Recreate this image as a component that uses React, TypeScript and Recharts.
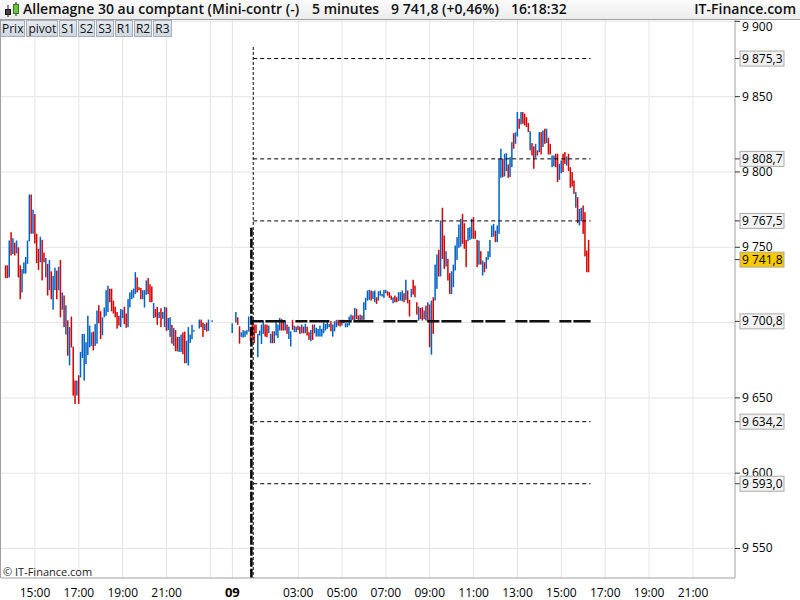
import React from "react";
import {
  ComposedChart, Bar, XAxis, YAxis, CartesianGrid, ReferenceLine,
} from "recharts";

// 5-minute bars, times in minutes relative to 00:00 on the 9th
const DAY8_START = -620;
const DAY9_START = 0;

const day8High = [
  9738, 9738, 9754.5, 9760, 9756, 9753, 9754.5, 9750, 9738, 9735.5,
  9740, 9743.5, 9754.5, 9785, 9785, 9775, 9772, 9759, 9749, 9757,
  9755, 9746.5, 9743, 9739, 9741.5, 9734, 9731, 9736.5, 9734.5, 9737,
  9741.5, 9720, 9718, 9711.5, 9701.5, 9697, 9704, 9684, 9661.5, 9661.5,
  9665, 9680.5, 9692.5, 9692.5, 9687, 9704.5, 9698, 9693.5, 9694, 9699,
  9708, 9711.5, 9707.5, 9703.5, 9710, 9721.5, 9724.5, 9722.5, 9722.5, 9714.5,
  9710.5, 9707, 9704.5, 9709, 9708.5, 9710.5, 9706, 9715.5, 9720, 9721.5,
  9722.5, 9733.5, 9730, 9723.5, 9723, 9721.5, 9721.5, 9728, 9729.5, 9725.5,
  9724, 9713, 9709, 9710.5, 9707, 9709.5, 9707, 9710.5, 9710, 9703,
  9703.5, 9698.5, 9696.5, 9695, 9690.5, 9690.5, 9692, 9693.5, 9694, 9688,
  9697, 9692, 9698.5, 9695, null, null, 9702, 9702, 9700, 9699,
  9700, 9702, null, 9701.5,
];
const day8Low = [
  9729.5, 9729.5, 9730, 9744.5, 9745.5, 9744.5, 9746, 9730, 9715.5, 9720,
  9732.5, 9732.5, 9739, 9754, 9759, 9759, 9752.5, 9739.5, 9735, 9740,
  9728, 9740, 9730, 9718, 9721.5, 9715.5, 9708.5, 9721.5, 9715.5, 9721.5,
  9703.5, 9708.5, 9697, 9692, 9678, 9671.5, 9683.5, 9651.5, 9646, 9651.5,
  9646, 9663.5, 9676.5, 9661.5, 9672.5, 9678.5, 9683.5, 9684.5, 9681.5, 9684.5,
  9686, 9699.5, 9689, 9691.5, 9703.5, 9704.5, 9707, 9713.5, 9707.5, 9706,
  9703.5, 9696, 9698, 9697, 9703, 9699, 9696.5, 9697, 9710, 9715.5,
  9716.5, 9719, 9720, 9721.5, 9715.5, 9715.5, 9710, 9718.5, 9719, 9713.5,
  9713.5, 9703, 9703.5, 9698.5, 9703, 9697, 9702.5, 9697, 9694.5, 9695,
  9690.5, 9686, 9684.5, 9681, 9681, 9680.5, 9680.5, 9679, 9673, 9673,
  9671.5, 9686.5, 9689, 9694, null, null, 9696, 9697, 9690.5, 9695,
  9694, 9694.5, null, 9701,
];
// b = up bar (blue), r = down bar (red)
const day8Dir =
  "rrbrbrbrrb" + "bbbbrbrrrb" + "rrbrbrbbrb" + "rbrbrbrrrb" + "rbbbbbbbrb" +
  "brrbbbbrrr" + "rrrbbrrbbb" + "bbrrrbbbrr" + "rbrrbrbbrb" + "brbrrbbrrb" +
  "bbbb..brrb" + "rb.b";

const day9High = [
  9699.5, null, 9707, 9703.5, 9697.5, 9693.5, 9695, 9694.5, 9695, 9704,
  9697, 9701, 9698.7, 9698.7, 9692.5, 9694.7, 9698.7, 9701.3, 9698.7, 9698.7,
  9698, 9692.5, 9694.2, 9694.2, 9700.2, 9698.7, 9703.1, 9702.4, 9701.3, 9701.3,
  9698.7, 9697.3, 9694.2, 9701.8, 9698, 9697.3, 9698, 9697.3, 9698.7, 9697.3,
  9699.1, 9697.3, 9693.6, 9695.1, 9698.7, 9698.7, 9696.5, 9695.8, 9698, 9695.8,
  9700.2, 9699.1, 9700.9, 9699.1, 9700.9, 9698.7, 9700.9, 9701.8, 9701.8, 9701.8,
  9701.8, 9701.8, 9699.6, 9699.6, 9704, 9705.3, 9704.7, 9709.7, 9709.1, 9704.7,
  9705.3, 9704.7, 9713.5, 9716.4, 9721.3, 9721.7, 9721.3, 9720.8, 9721.3, 9716.8,
  9720.8, 9721.3, 9719, 9721.7, 9721.7, 9720.8, 9720.2, 9717.9, 9716.8, 9717.9,
  9716.8, 9720.2, 9720.2, 9721.3, 9719.5, 9728.4, 9721.3, 9715.1, 9722.4, 9728.4,
  9724.6, 9713.5, 9710.6, 9709.7, 9710.2, 9708, 9711.3, 9713.5, 9712, 9714.6,
  9716.8, 9738.5, 9745.2, 9748.3, 9767.8, 9776.2, 9757.8, 9747.4, 9742.3, 9732.8,
  9734.1, 9738.5, 9751.2, 9756.7, 9765.1, 9768.9, 9772.2, 9766, 9754.9, 9762.9,
  9763.3, 9768.9, 9770, 9761.1, 9754.9, 9754.5, 9747.4, 9741.2, 9740.1, 9743.4,
  9747.4, 9754.9, 9764.5, 9765.6, 9761.1, 9764.5, 9808.8, 9815.4, 9808.8, 9812.1,
  9812.5, 9805, 9809.9, 9819.8, 9825.8, 9826.3, 9839.8, 9835.3, 9839.8, 9839.8,
  9838.7, 9836.4, 9832.5, 9827.1, 9819.2, 9817, 9818.7, 9814.3, 9826.5, 9826.5,
  9827.6, 9828.7, 9828.7, 9822.7, 9818.7, 9811, 9811, 9812.1, 9812.1, 9805.4,
  9807.6, 9812.1, 9813.2, 9810.3, 9812.1, 9803.2, 9799.9, 9794.4, 9786.6, 9783.3,
  9775.5, 9776.2, 9777.7, 9773.3, 9747.8, 9754.9,
];
const day9Low = [
  9693, null, 9700, 9698.5, 9686, 9690.5, 9690, 9690.5, 9692, 9694,
  9688, 9690, 9686.3, 9692.9, 9677, 9691.4, 9685.8, 9692.5, 9690.7, 9690.3,
  9692.9, 9686.3, 9686.3, 9686.3, 9691.4, 9689.8, 9694.7, 9694.7, 9694.7, 9694.7,
  9692.5, 9689.1, 9684.1, 9695.1, 9693.6, 9693.6, 9695.1, 9692.5, 9692.9, 9692.9,
  9692.9, 9691.4, 9688.5, 9687.6, 9688.5, 9692.9, 9690.7, 9690.7, 9690.7, 9690.7,
  9692.9, 9694.7, 9695.8, 9696.9, 9694.2, 9690.7, 9694.2, 9696.9, 9698, 9697.3,
  9698, 9699.6, 9696.9, 9696.9, 9698, 9700.2, 9701.8, 9700.9, 9702.4, 9700.2,
  9700.9, 9701.8, 9701.8, 9708.4, 9714.6, 9715.1, 9714.6, 9715.7, 9713.5, 9712.4,
  9714.6, 9717.9, 9717.3, 9716.4, 9719.5, 9717.9, 9716.4, 9715.1, 9712.8, 9713.5,
  9713.5, 9714.2, 9714.6, 9714.2, 9713.5, 9715.1, 9712.8, 9704, 9716.8, 9718.6,
  9716.8, 9705.3, 9701.3, 9702.4, 9701.3, 9702.4, 9701.3, 9700.2, 9683.6, 9678.7,
  9692.5, 9714.6, 9722.4, 9730.6, 9730.6, 9742.3, 9735.7, 9737.2, 9727.9, 9719,
  9719, 9723.5, 9734.6, 9741.6, 9749.6, 9750.5, 9752.3, 9749, 9736.8, 9754,
  9754.9, 9755.6, 9755.6, 9755.6, 9736.8, 9738.5, 9738.5, 9731.2, 9733.4, 9735.7,
  9741.6, 9743.4, 9756.7, 9757.1, 9753.4, 9753.4, 9758.9, 9796.1, 9796.6, 9797,
  9800.6, 9796.1, 9796.6, 9803.2, 9815.4, 9818.7, 9823.6, 9828.7, 9831.6, 9832,
  9830.9, 9829.8, 9826.5, 9814.3, 9811, 9802.1, 9809.4, 9811, 9813.2, 9811.6,
  9816.5, 9818.7, 9819.2, 9811.6, 9811.6, 9803.2, 9803.7, 9803.2, 9793.3, 9794.8,
  9799.2, 9799.9, 9805.4, 9804.3, 9800.6, 9789.5, 9790.4, 9785.5, 9776.2, 9766,
  9764.5, 9767.3, 9758.9, 9743.9, 9733.4, 9733.4,
];
const day9Dir =
  "b.brrbbbbb" + "rrrrbbbbrr" + "bbrbbbbrrb" + "rbbrbbrrbr" + "brrbrbbbbb" +
  "bbbbrbbbrr" + "brbbbbrbrr" + "brbbbbrbbr" + "bbbbbrrrbr" + "rbbbrbrrbr" +
  "rrbrrbrbrb" + "rbbrbrrbrr" + "bbbbbbrrrb" + "bbrrrbrbrb" + "bbbbrbbbrb" +
  "brbbrbbrbr" + "rrrbrrbrbr" + "brbrrbbrrb" + "brrbrrrrbr" + "bbrrrr";

const pivotLevels = [9875.3, 9808.7, 9767.5, 9634.2, 9593.0];
const pivotMain = 9700.8;
const lastPrice = 9741.8;
const priceTicks = [9550, 9600, 9650, 9700, 9750, 9800, 9850, 9900];
// 9 700 sits under the 9 700,8 pivot box and is not drawn
const priceLabels = [9550, 9600, 9650, 9750, 9800, 9850, 9900];
const timeTicks = [-540, -420, -300, -180, 0, 180, 300, 420, 540, 660, 780, 900, 1020, 1140, 1260];
const gridTimes = [-540, -420, -300, -180, -60, 0, 180, 300, 420, 540, 660, 780, 900, 1020, 1140, 1260];

const RED = "#dc0000";
const BLUE = "#0062c4";
const FONT = "'Open Sans', 'DejaVu Sans', sans-serif";

type Row = { t: number; hl: [number, number] | null; up: boolean };

function buildDay(start: number, hi: (number | null)[], lo: (number | null)[], dir: string): Row[] {
  return hi.map((h, i) => ({
    t: start + i * 5,
    hl: h == null || lo[i] == null ? null : [lo[i] as number, h],
    up: dir[i] === "b",
  }));
}

const rows: Row[] = [
  ...buildDay(DAY8_START, day8High, day8Low, day8Dir),
  ...buildDay(DAY9_START, day9High, day9Low, day9Dir),
];

function fmtPrice(v: number, digits: number) {
  const [i, f] = v.toFixed(digits).split(".");
  const ip = i.slice(0, -3) + " " + i.slice(-3);
  return f ? ip + "," + f : ip;
}

function fmtTime(t: number) {
  if (t === 0) return "09";
  const m = ((t % 1440) + 1440) % 1440;
  const h = Math.floor(m / 60);
  return `${h < 10 ? "0" : ""}${h}:00`;
}

const boxed = [...pivotLevels, pivotMain, lastPrice];

function PriceTick(props: any) {
  const { x, y, payload } = props;
  const v = payload.value as number;
  if (boxed.includes(v)) {
    const isLast = v === lastPrice;
    return (
      <g>
        <rect x={x - 2} y={y - 7.5} width={44} height={15} fill={isLast ? "#f8c800" : "#f2f2f2"} stroke="#a9a9a9" />
        <text x={x} y={y + 4} fontSize={12} fontFamily={FONT} fill="#000">{fmtPrice(v, 1)}</text>
      </g>
    );
  }
  return (
    <text x={x} y={v === 9900 ? y + 10 : y + 4} fontSize={12} fontFamily={FONT} fill="#000">
      {fmtPrice(v, 0)}
    </text>
  );
}

function TimeTick(props: any) {
  const { x, y, payload } = props;
  const day = payload.value === 0;
  return (
    <text x={x} y={y + 11} textAnchor="middle" fontSize={day ? 13 : 12} fontWeight={day ? 700 : 400} fontFamily={FONT} fill="#000">
      {fmtTime(payload.value)}
    </text>
  );
}

function BarShape(props: any) {
  const { x, y, width, height, payload } = props;
  if (payload == null || payload.hl == null) return null;
  const h = Math.max(height, 1.5);
  return <rect x={x} y={y} width={width} height={h} fill={payload.up ? BLUE : RED} />;
}

const buttons = ["Prix", "pivot", "S1", "S2", "S3", "R1", "R2", "R3"];
const headText = { position: "absolute" as const, top: -1, fontSize: 14, fontWeight: 600, color: "#111", whiteSpace: "pre" as const };

export default function App() {
  return (
    <div style={{ position: "absolute", left: 0, top: 0, width: 800, height: 600, background: "#fff", fontFamily: FONT, overflow: "hidden" }}>
      <ComposedChart
        width={800}
        height={600}
        data={rows}
        margin={{ top: 20, right: 0, left: 1, bottom: 0 }}
      >
        <CartesianGrid stroke="#e4e4e4" horizontalValues={priceTicks} verticalValues={gridTimes} />
        <XAxis
          dataKey="t"
          type="number"
          domain={[-633, 1375]}
          ticks={timeTicks}
          interval={0}
          height={22}
          tick={<TimeTick />}
          tickLine={false}
          axisLine={{ stroke: "#a0a0a0" }}
          allowDataOverflow
        />
        <YAxis
          orientation="right"
          type="number"
          domain={[9530.4, 9900.9]}
          ticks={[...priceLabels, ...boxed]}
          interval={0}
          width={65}
          tickSize={5}
          tickLine={{ stroke: "#333" }}
          axisLine={{ stroke: "#a0a0a0" }}
          tick={<PriceTick />}
          allowDataOverflow
        />
        {pivotLevels.map((p) => (
          <ReferenceLine
            key={p}
            segment={[{ x: 57, y: p }, { x: 980, y: p }]}
            stroke="#000"
            strokeDasharray="4 3"
            strokeWidth={1}
          />
        ))}
        <ReferenceLine
          segment={[{ x: 57, y: 9883 }, { x: 57, y: 9530.4 }]}
          stroke="#000"
          strokeDasharray="3 2"
          strokeWidth={1}
        />
        <ReferenceLine
          segment={[{ x: 52, y: 9763 }, { x: 52, y: 9530.4 }]}
          stroke="#000"
          strokeDasharray="9 2"
          strokeWidth={2.5}
        />
        <Bar dataKey="hl" barSize={1.5} isAnimationActive={false} shape={<BarShape />} />
        <ReferenceLine
          segment={[{ x: 52, y: pivotMain }, { x: 980, y: pivotMain }]}
          stroke="#111"
          strokeDasharray="12 2 20 10"
          strokeWidth={2.5}
        />
      </ComposedChart>

      {/* header */}
      <div style={{ position: "absolute", left: 0, top: 0, width: 800, height: 19, background: "linear-gradient(#fbfbfb, #ececec)", borderBottom: "1px solid #a0a0a0" }}>
        <svg width={20} height={19} style={{ position: "absolute", left: 2, top: 0 }}>
          <line x1={6} y1={5} x2={6} y2={17} stroke="#222" />
          <rect x={3.5} y={9.5} width={5} height={5} fill="#444" stroke="#111" />
          <line x1={14} y1={2} x2={14} y2={16} stroke="#222" />
          <rect x={11.5} y={4.5} width={5} height={9} fill="#6cc644" stroke="#2f7a1a" />
        </svg>
        <div style={{ ...headText, left: 23 }}>Allemagne 30 au comptant (Mini-contr (-)</div>
        <div style={{ ...headText, left: 312 }}>5 minutes</div>
        <div style={{ ...headText, left: 391 }}>9 741,8 (+0,46%)</div>
        <div style={{ ...headText, left: 511 }}>16:18:32</div>
        <div style={{ ...headText, right: 4 }}>IT-Finance.com</div>
      </div>

      {/* pivot toggle buttons */}
      <div style={{ position: "absolute", left: 0, top: 20, display: "flex" }}>
        {buttons.map((b) => (
          <div key={b} style={{ height: 15, padding: "0 1px", marginRight: 1, background: "linear-gradient(#e6ebf1, #cfd7e1)", border: "1px solid #a5adb8", fontSize: 12, lineHeight: "15px", color: "#111" }}>
            {b}
          </div>
        ))}
      </div>

      <div style={{ position: "absolute", left: 0, top: 20, width: 1, height: 558, background: "#a0a0a0" }} />
      <div style={{ position: "absolute", left: 3, top: 564, fontSize: 11, color: "#222" }}>© IT-Finance.com</div>
    </div>
  );
}
